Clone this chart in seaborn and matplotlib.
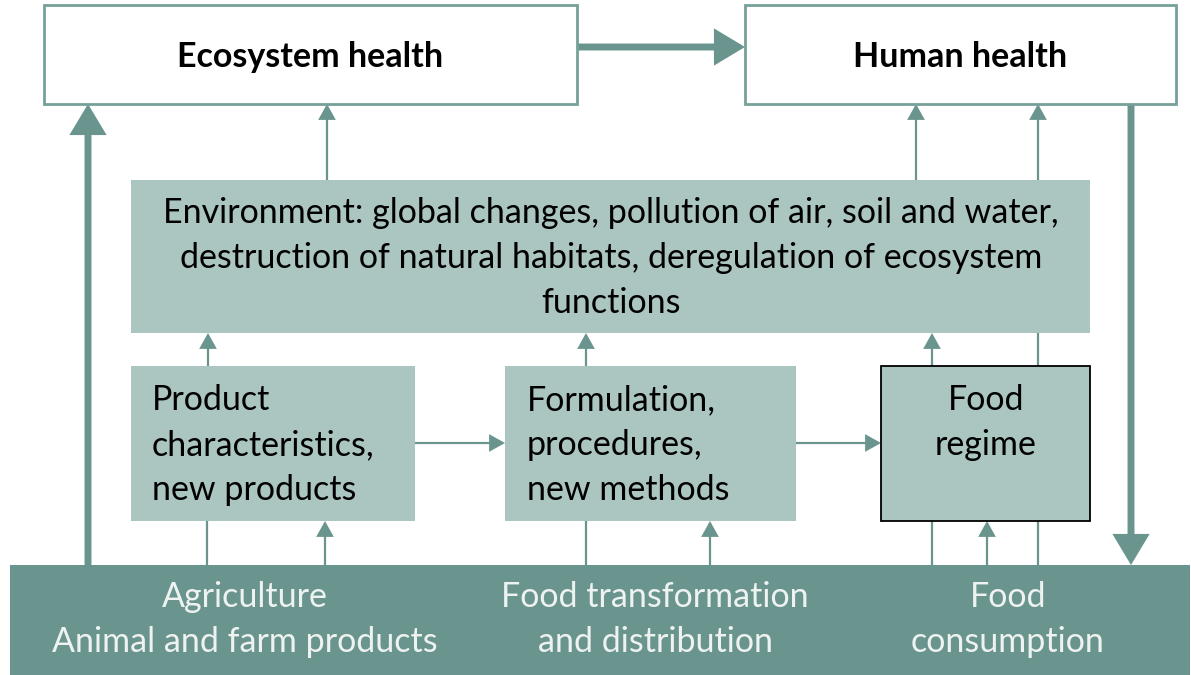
import matplotlib
matplotlib.use("Agg")
import matplotlib.pyplot as plt
import seaborn as sns
from matplotlib.patches import Rectangle, FancyArrowPatch

# ---- content -------------------------------------------------------------
top_labels    = ["Ecosystem health", "Human health"]
env_lines     = ["Environment: global changes, pollution of air, soil and water,",
                 "destruction of natural habitats, deregulation of ecosystem",
                 "functions"]
middle_labels = [["Product", "characteristics,", "new products"],
                 ["Formulation,", "procedures,", "new methods"],
                 ["Food", "regime"]]
bottom_labels = [["Agriculture", "Animal and farm products"],
                 ["Food transformation", "and distribution"],
                 ["Food", "consumption"]]

DARK  = "#6a958e"
LIGHT = "#abc5c1"
EDGE  = "#76a099"
TXT_LIGHT = "#eef2f1"
FS = 24.5

sns.set_theme(style="white")
plt.rcParams['font.family'] = ['Lato', 'DejaVu Sans']

fig = plt.figure(figsize=(11.91, 6.75), dpi=100)
ax = fig.add_axes([0, 0, 1, 1])
ax.set_xlim(0, 1191)
ax.set_ylim(675, 0)
ax.axis("off")


def box(x0, y0, x1, y1, fc, ec=None, lw=0, z=2):
    ax.add_patch(Rectangle((x0, y0), x1 - x0, y1 - y0, facecolor=fc,
                           edgecolor=ec if ec else fc, linewidth=lw, zorder=z))


def lines_text(lines, x, y0, pitch, size=FS, color="black", ha="center", weight="normal"):
    for i, s in enumerate(lines):
        ax.text(x, y0 + i * pitch, s, ha=ha, va="baseline", fontsize=size,
                color=color, fontweight=weight, zorder=5)


def arrow(x0, y0, x1, y1, lw=1.6, hl=9, hw=5):
    ax.add_patch(FancyArrowPatch((x0, y0), (x1, y1),
                                 arrowstyle=f"-|>,head_length={hl},head_width={hw}",
                                 mutation_scale=1, shrinkA=0, shrinkB=0,
                                 color=DARK, linewidth=lw, joinstyle="miter",
                                 capstyle="butt", zorder=1))


def line(x0, y0, x1, y1, lw=1.6):
    ax.plot([x0, x1], [y0, y1], color=DARK, linewidth=lw, zorder=1,
            solid_capstyle="butt")


# ---- top boxes -----------------------------------------------------------
box(44, 5, 577, 104, "white", EDGE, 2)
box(745, 5, 1176, 104, "white", EDGE, 2)
lines_text([top_labels[0]], 310, 67, 0, weight="bold")
lines_text([top_labels[1]], 960, 67, 0, weight="bold")
arrow(577, 47, 745, 47, lw=5, hl=15, hw=9)

# ---- environment ---------------------------------------------------------
box(131, 180, 1090, 333, LIGHT)
lines_text(env_lines, 611, 223, 45)

# ---- middle boxes --------------------------------------------------------
box(131, 366, 415, 521, LIGHT)
box(505, 366, 796, 521, LIGHT)
box(881, 366, 1090, 521, LIGHT, "black", 1.3)
lines_text(middle_labels[0], 152, 410, 45, ha="left")
lines_text(middle_labels[1], 527, 410, 45, ha="left")
lines_text(middle_labels[2], 986, 410, 45)
arrow(415, 443, 505, 443)
arrow(796, 443, 881, 443)

# ---- bottom band ---------------------------------------------------------
box(10, 565, 1190, 675, DARK)
lines_text(bottom_labels[0], 245, 607, 45, color=TXT_LIGHT)
lines_text(bottom_labels[1], 655, 607, 45, color=TXT_LIGHT)
lines_text(bottom_labels[2], 1008, 607, 45, color=TXT_LIGHT)

# ---- thick side arrows ---------------------------------------------------
arrow(88, 565, 88, 104, lw=5, hl=15, hw=9)
arrow(1131, 104, 1131, 565, lw=5, hl=15, hw=9)

# ---- connectors: environment -> health -----------------------------------
arrow(327, 180, 327, 104)
arrow(916, 180, 916, 104)
arrow(1038, 180, 1038, 104)

# ---- connectors: middle -> environment -----------------------------------
arrow(208, 366, 208, 333)
arrow(586, 366, 586, 333)
arrow(932, 366, 932, 333)
line(1038, 366, 1038, 333)

# ---- connectors: bottom band -> middle -----------------------------------
line(207, 565, 207, 521)
arrow(325, 565, 325, 521)
line(586, 565, 586, 521)
arrow(710, 565, 710, 521)
line(932, 565, 932, 521)
arrow(987, 565, 987, 521)
line(1038, 565, 1038, 521)

fig.savefig("out.png", dpi=100)
